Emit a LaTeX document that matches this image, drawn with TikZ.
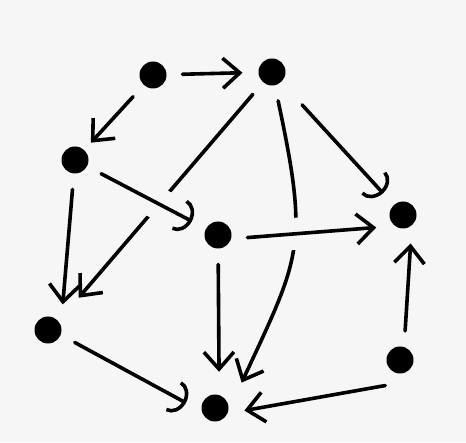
\documentclass[tikz,border=0pt]{standalone}
\usetikzlibrary{arrows.meta, positioning}
\definecolor{paper}{gray}{0.965}
\tikzset{
  dot/.style={circle, fill=black, inner sep=0pt, minimum size=27pt,
  outer sep=16pt}, % the inked blobs, edges stop short of them
  cup/.style={-{Arc Barb[length=14pt,width=34pt]}}, % rounded heads
  % the line drawn last hides the one that passes below it
  over/.style={preaction={draw=paper, line width=32pt, line cap=butt, -}},
}

\begin{document}
\begin{tikzpicture}[x=1pt, y=1pt, >={Straight Barb[length=17pt,width=30pt]},
  every edge/.append style={->}, line width=3.6pt, line cap=round, line join=round]
    \fill[paper] (0,0) rectangle (466,442);
    \useasboundingbox (0,0) rectangle (466,442);

    \node[dot] (a) at (153,367) {};
    \node[dot] (b) at (272,370) {};
    \node[dot] (c) at (75,282) {};
    \node[dot] (d) at (218,207) {};
    \node[dot] (e) at (403,227) {};
    \node[dot] (f) at (48,112) {};
    \node[dot] (g) at (215,34) {};
    \node[dot] (h) at (400,82) {};

    \draw
    (b) edge[shorten >=15pt] (f.45)

    (b) edge[out=-78, in=65, looseness=1.3, shorten >=8pt] (g.38)

    (c) edge[over, cup] (d)

    (d.-5) edge[over] (e.205)

    (a) edge (b)
    (a) edge[shorten >=-6pt] (c)
    (b) edge[cup, shorten <=15pt] (e)
    (c) edge (f.60)
    (d) edge[shorten >=7pt] (g.82)
    (f.-25) edge[cup] (g.170)
    (h.240) edge (g.-5)
    (h.80) edge (e.-75)
    ;
  \end{tikzpicture}
\end{document}
